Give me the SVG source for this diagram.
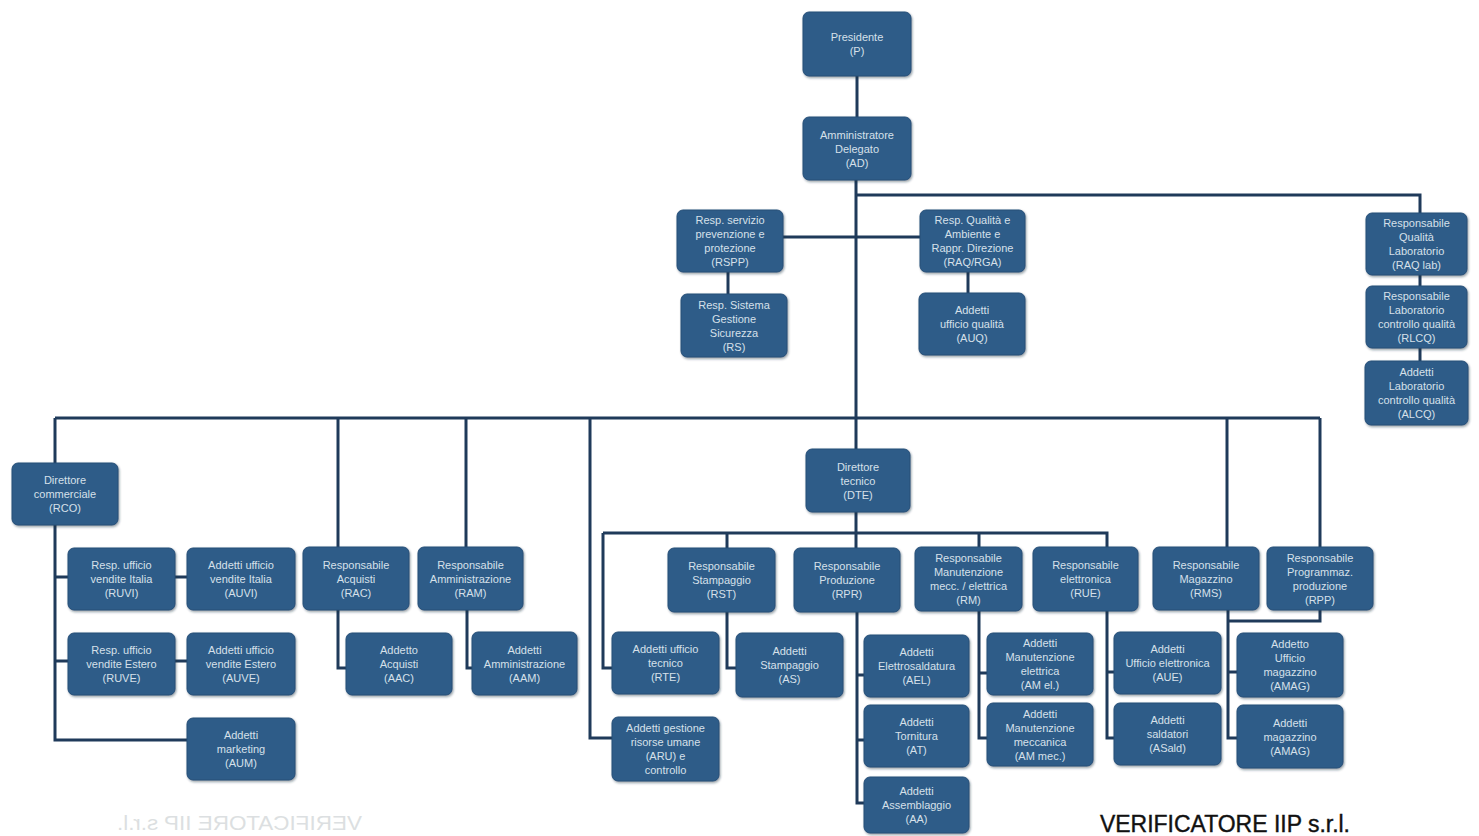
<svg xmlns="http://www.w3.org/2000/svg" width="1479" height="836" viewBox="0 0 1479 836">
<defs>
<filter id="sh" x="-10%" y="-10%" width="120%" height="125%">
<feDropShadow dx="1" dy="1.5" stdDeviation="1.2" flood-color="#1a2a3a" flood-opacity="0.45"/>
</filter>
</defs>
<style>
.n rect{fill:#2d5b88;stroke:#264e77;stroke-width:1;filter:url(#sh)}
.n text{font-family:"Liberation Sans",Arial,sans-serif;font-size:11px;fill:#d6e0ea;text-anchor:middle}
.c path{fill:none;stroke:#1f3a5a;stroke-width:3}
.wm{font-family:"Liberation Sans",Arial,sans-serif}
</style>
<rect width="1479" height="836" fill="#ffffff"/>
<g class="c" id="connectors">
<path d="M857 76V117"/>
<path d="M856 180V449"/>
<path d="M856 195H1420V213"/>
<path d="M783 237H920"/>
<path d="M728 272V294"/>
<path d="M968 272V293"/>
<path d="M1420 275V286"/>
<path d="M1420 348V361"/>
<path d="M55 418H1320"/>
<path d="M55 418V463"/>
<path d="M338 418V547"/>
<path d="M466 418V547"/>
<path d="M590 418V738H612"/>
<path d="M1227 418V547"/>
<path d="M1320 418V547"/>
<path d="M55 525V740H187"/>
<path d="M55 577H68M175 577H187"/>
<path d="M55 661H68M175 661H187"/>
<path d="M338 610V668H346"/>
<path d="M467 610V668H472"/>
<path d="M856 512V548"/>
<path d="M603 533H1107V547"/>
<path d="M603 533V668H612"/>
<path d="M727 533V548"/>
<path d="M979 533V547"/>
<path d="M727 612V668H736"/>
<path d="M857 612V803H864M857 675H864M857 740H864"/>
<path d="M979 611V738H987M979 673H987"/>
<path d="M1107 611V738H1114M1107 672H1114"/>
<path d="M1228 610V738H1237M1228 672H1237"/>
<path d="M1320 610V621H1228"/>
</g>
<g class="n" id="P"><rect x="803" y="12" width="108" height="64" rx="6"/><text x="857" y="41">Presidente</text><text x="857" y="55">(P)</text></g>
<g class="n" id="AD"><rect x="803" y="117" width="108" height="63" rx="6"/><text x="857" y="138.5">Amministratore</text><text x="857" y="152.5">Delegato</text><text x="857" y="166.5">(AD)</text></g>
<g class="n" id="RSPP"><rect x="677" y="210" width="106" height="62" rx="6"/><text x="730" y="224">Resp. servizio</text><text x="730" y="238">prevenzione e</text><text x="730" y="252">protezione</text><text x="730" y="266">(RSPP)</text></g>
<g class="n" id="RS"><rect x="681" y="294" width="106" height="63" rx="6"/><text x="734" y="308.5">Resp. Sistema</text><text x="734" y="322.5">Gestione</text><text x="734" y="336.5">Sicurezza</text><text x="734" y="350.5">(RS)</text></g>
<g class="n" id="RAQ"><rect x="920" y="210" width="105" height="62" rx="6"/><text x="972.5" y="224">Resp. Qualità e</text><text x="972.5" y="238">Ambiente e</text><text x="972.5" y="252">Rappr. Direzione</text><text x="972.5" y="266">(RAQ/RGA)</text></g>
<g class="n" id="AUQ"><rect x="919" y="293" width="106" height="62" rx="6"/><text x="972" y="314">Addetti</text><text x="972" y="328">ufficio qualità</text><text x="972" y="342">(AUQ)</text></g>
<g class="n" id="RAQlab"><rect x="1366" y="213" width="101" height="62" rx="6"/><text x="1416.5" y="227">Responsabile</text><text x="1416.5" y="241">Qualità</text><text x="1416.5" y="255">Laboratorio</text><text x="1416.5" y="269">(RAQ lab)</text></g>
<g class="n" id="RLCQ"><rect x="1366" y="286" width="101" height="62" rx="6"/><text x="1416.5" y="300">Responsabile</text><text x="1416.5" y="314">Laboratorio</text><text x="1416.5" y="328">controllo qualità</text><text x="1416.5" y="342">(RLCQ)</text></g>
<g class="n" id="ALCQ"><rect x="1365" y="361" width="103" height="64" rx="6"/><text x="1416.5" y="376">Addetti</text><text x="1416.5" y="390">Laboratorio</text><text x="1416.5" y="404">controllo qualità</text><text x="1416.5" y="418">(ALCQ)</text></g>
<g class="n" id="RCO"><rect x="12" y="463" width="106" height="62" rx="6"/><text x="65" y="484">Direttore</text><text x="65" y="498">commerciale</text><text x="65" y="512">(RCO)</text></g>
<g class="n" id="RUVI"><rect x="68" y="548" width="107" height="62" rx="6"/><text x="121.5" y="569">Resp. ufficio</text><text x="121.5" y="583">vendite Italia</text><text x="121.5" y="597">(RUVI)</text></g>
<g class="n" id="AUVI"><rect x="187" y="548" width="108" height="62" rx="6"/><text x="241" y="569">Addetti ufficio</text><text x="241" y="583">vendite Italia</text><text x="241" y="597">(AUVI)</text></g>
<g class="n" id="RUVE"><rect x="68" y="633" width="107" height="62" rx="6"/><text x="121.5" y="654">Resp. ufficio</text><text x="121.5" y="668">vendite Estero</text><text x="121.5" y="682">(RUVE)</text></g>
<g class="n" id="AUVE"><rect x="187" y="633" width="108" height="62" rx="6"/><text x="241" y="654">Addetti ufficio</text><text x="241" y="668">vendite Estero</text><text x="241" y="682">(AUVE)</text></g>
<g class="n" id="AUM"><rect x="187" y="718" width="108" height="62" rx="6"/><text x="241" y="739">Addetti</text><text x="241" y="753">marketing</text><text x="241" y="767">(AUM)</text></g>
<g class="n" id="RAC"><rect x="303" y="547" width="106" height="63" rx="6"/><text x="356" y="568.5">Responsabile</text><text x="356" y="582.5">Acquisti</text><text x="356" y="596.5">(RAC)</text></g>
<g class="n" id="RAM"><rect x="418" y="547" width="105" height="63" rx="6"/><text x="470.5" y="568.5">Responsabile</text><text x="470.5" y="582.5">Amministrazione</text><text x="470.5" y="596.5">(RAM)</text></g>
<g class="n" id="AAC"><rect x="346" y="633" width="106" height="62" rx="6"/><text x="399" y="654">Addetto</text><text x="399" y="668">Acquisti</text><text x="399" y="682">(AAC)</text></g>
<g class="n" id="AAM"><rect x="472" y="632" width="105" height="63" rx="6"/><text x="524.5" y="653.5">Addetti</text><text x="524.5" y="667.5">Amministrazione</text><text x="524.5" y="681.5">(AAM)</text></g>
<g class="n" id="DTE"><rect x="806" y="449" width="104" height="63" rx="6"/><text x="858" y="470.5">Direttore</text><text x="858" y="484.5">tecnico</text><text x="858" y="498.5">(DTE)</text></g>
<g class="n" id="RST"><rect x="668" y="548" width="107" height="64" rx="6"/><text x="721.5" y="570">Responsabile</text><text x="721.5" y="584">Stampaggio</text><text x="721.5" y="598">(RST)</text></g>
<g class="n" id="RPR"><rect x="794" y="548" width="106" height="64" rx="6"/><text x="847" y="570">Responsabile</text><text x="847" y="584">Produzione</text><text x="847" y="598">(RPR)</text></g>
<g class="n" id="RTE"><rect x="612" y="632" width="107" height="62" rx="6"/><text x="665.5" y="653">Addetti ufficio</text><text x="665.5" y="667">tecnico</text><text x="665.5" y="681">(RTE)</text></g>
<g class="n" id="AS"><rect x="736" y="633" width="107" height="64" rx="6"/><text x="789.5" y="655">Addetti</text><text x="789.5" y="669">Stampaggio</text><text x="789.5" y="683">(AS)</text></g>
<g class="n" id="ARU"><rect x="612" y="717" width="107" height="64" rx="6"/><text x="665.5" y="732">Addetti gestione</text><text x="665.5" y="746">risorse umane</text><text x="665.5" y="760">(ARU) e</text><text x="665.5" y="774">controllo</text></g>
<g class="n" id="RM"><rect x="915" y="547" width="107" height="64" rx="6"/><text x="968.5" y="562">Responsabile</text><text x="968.5" y="576">Manutenzione</text><text x="968.5" y="590">mecc. / elettrica</text><text x="968.5" y="604">(RM)</text></g>
<g class="n" id="RUE"><rect x="1033" y="547" width="105" height="64" rx="6"/><text x="1085.5" y="569">Responsabile</text><text x="1085.5" y="583">elettronica</text><text x="1085.5" y="597">(RUE)</text></g>
<g class="n" id="AEL"><rect x="864" y="635" width="105" height="62" rx="6"/><text x="916.5" y="656">Addetti</text><text x="916.5" y="670">Elettrosaldatura</text><text x="916.5" y="684">(AEL)</text></g>
<g class="n" id="AT"><rect x="864" y="705" width="105" height="62" rx="6"/><text x="916.5" y="726">Addetti</text><text x="916.5" y="740">Tornitura</text><text x="916.5" y="754">(AT)</text></g>
<g class="n" id="AA"><rect x="864" y="777" width="105" height="56" rx="6"/><text x="916.5" y="795">Addetti</text><text x="916.5" y="809">Assemblaggio</text><text x="916.5" y="823">(AA)</text></g>
<g class="n" id="AMel"><rect x="987" y="633" width="106" height="62" rx="6"/><text x="1040" y="647">Addetti</text><text x="1040" y="661">Manutenzione</text><text x="1040" y="675">elettrica</text><text x="1040" y="689">(AM el.)</text></g>
<g class="n" id="AMmec"><rect x="987" y="703" width="106" height="63" rx="6"/><text x="1040" y="717.5">Addetti</text><text x="1040" y="731.5">Manutenzione</text><text x="1040" y="745.5">meccanica</text><text x="1040" y="759.5">(AM mec.)</text></g>
<g class="n" id="RMS"><rect x="1153" y="547" width="106" height="63" rx="6"/><text x="1206" y="568.5">Responsabile</text><text x="1206" y="582.5">Magazzino</text><text x="1206" y="596.5">(RMS)</text></g>
<g class="n" id="RPP"><rect x="1267" y="547" width="106" height="63" rx="6"/><text x="1320" y="561.5">Responsabile</text><text x="1320" y="575.5">Programmaz.</text><text x="1320" y="589.5">produzione</text><text x="1320" y="603.5">(RPP)</text></g>
<g class="n" id="AUE"><rect x="1114" y="632" width="107" height="62" rx="6"/><text x="1167.5" y="653">Addetti</text><text x="1167.5" y="667">Ufficio elettronica</text><text x="1167.5" y="681">(AUE)</text></g>
<g class="n" id="ASald"><rect x="1114" y="703" width="107" height="62" rx="6"/><text x="1167.5" y="724">Addetti</text><text x="1167.5" y="738">saldatori</text><text x="1167.5" y="752">(ASald)</text></g>
<g class="n" id="AMAGu"><rect x="1237" y="633" width="106" height="64" rx="6"/><text x="1290" y="648">Addetto</text><text x="1290" y="662">Ufficio</text><text x="1290" y="676">magazzino</text><text x="1290" y="690">(AMAG)</text></g>
<g class="n" id="AMAG"><rect x="1237" y="705" width="106" height="63" rx="6"/><text x="1290" y="726.5">Addetti</text><text x="1290" y="740.5">magazzino</text><text x="1290" y="754.5">(AMAG)</text></g>
<text class="wm" x="-362" y="830" transform="scale(-1,1)" font-size="20" fill="#dcdfe1" textLength="245" lengthAdjust="spacingAndGlyphs">VERIFICATORE IIP s.r.l.</text>
<text class="wm" x="1100" y="832" font-size="23" fill="#111111" stroke="#111111" stroke-width="0.4" textLength="250" lengthAdjust="spacingAndGlyphs">VERIFICATORE IIP s.r.l.</text>
</svg>
